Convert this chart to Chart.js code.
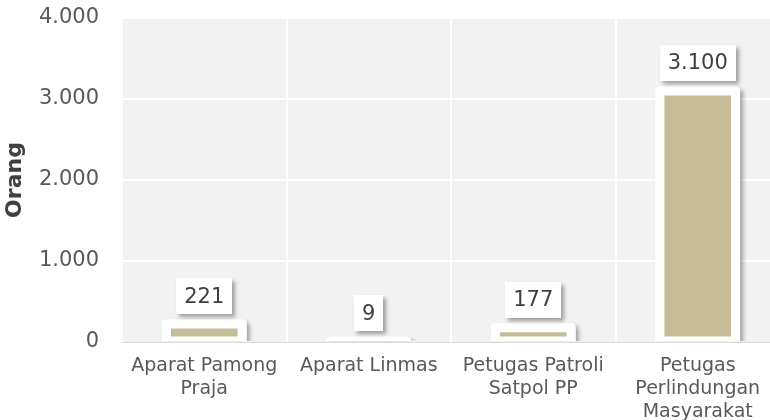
<!DOCTYPE html>
<html>
<head>
<meta charset="utf-8">
<script src="https://cdn.jsdelivr.net/npm/chart.js@4"></script>
<style>
  html, body { margin: 0; padding: 0; background: #fff; overflow: hidden; }
  #wadah { width: 780px; height: 420px; }
</style>
</head>
<body>
<div id="wadah"><canvas id="grafik" width="780" height="420"></canvas></div>
<script>
const kategori = [
    ["Aparat Pamong", "Praja"],
    ["Aparat Linmas"],
    ["Petugas Patroli", "Satpol PP"],
    ["Petugas", "Perlindungan", "Masyarakat"]
];
const jumlahOrang = [221, 9, 177, 3100];
const tickY = [0, 1000, 2000, 3000, 4000];
const judulY = "Orang";

const FONT = "'DejaVu Sans', sans-serif";
const BAYANGAN = { color: "rgba(0,0,0,0.35)", blur: 4, dx: 3, dy: 3 };

function formatAngka(n) {
    return String(n).replace(/\B(?=(\d{3})+(?!\d))/g, ".");
}

function kotakBulat(ctx, x, y, w, h, r) {
    ctx.beginPath();
    ctx.moveTo(x + r, y);
    ctx.lineTo(x + w - r, y);
    ctx.quadraticCurveTo(x + w, y, x + w, y + r);
    ctx.lineTo(x + w, y + h);
    ctx.lineTo(x, y + h);
    ctx.lineTo(x, y + r);
    ctx.quadraticCurveTo(x, y, x + r, y);
    ctx.closePath();
}

// background of the plot area
const latarPlot = {
    id: "latarPlot",
    beforeDraw(chart) {
        const { ctx, chartArea: a } = chart;
        ctx.save();
        ctx.fillStyle = "#f2f2f2";
        ctx.fillRect(a.left, a.top, a.right - a.left, a.bottom - a.top);
        ctx.restore();
    }
};

// white frame with shadow around each bar, plus the value boxes
const bingkaiBatang = {
    id: "bingkaiBatang",
    beforeDatasetsDraw(chart) {
        const { ctx, chartArea: a } = chart;
        const meta = chart.getDatasetMeta(0);
        ctx.save();
        ctx.beginPath();
        ctx.rect(a.left, a.top - 60, a.right - a.left, a.bottom - a.top + 59);
        ctx.clip();
        meta.data.forEach(el => {
            const p = el.getProps(["x", "y", "base", "width"], true);
            const kiri = p.x - p.width / 2 - 4.5;
            const atas = p.y - 4.5;
            ctx.shadowColor = BAYANGAN.color;
            ctx.shadowBlur = BAYANGAN.blur;
            ctx.shadowOffsetX = BAYANGAN.dx;
            ctx.shadowOffsetY = BAYANGAN.dy;
            ctx.fillStyle = "#ffffff";
            kotakBulat(ctx, kiri, atas, p.width + 9, p.base - atas + 4.5, 4);
            ctx.fill();
        });
        ctx.restore();
    },
    afterDatasetsDraw(chart) {
        const { ctx, chartArea: a } = chart;
        const meta = chart.getDatasetMeta(0);
        ctx.save();
        ctx.beginPath();
        ctx.rect(a.left, a.top - 60, a.right - a.left, a.bottom - a.top + 59);
        ctx.clip();
        ctx.strokeStyle = "#ffffff";
        ctx.lineWidth = 9;
        ctx.lineJoin = "round";
        meta.data.forEach(el => {
            const p = el.getProps(["x", "y", "base", "width"], true);
            ctx.strokeRect(p.x - p.width / 2, p.y, p.width, p.base - p.y);
        });
        ctx.restore();

        ctx.save();
        ctx.font = "21px " + FONT;
        ctx.textAlign = "center";
        ctx.textBaseline = "middle";
        meta.data.forEach((el, i) => {
            const p = el.getProps(["x", "y"], true);
            const teks = formatAngka(jumlahOrang[i]);
            const w = ctx.measureText(teks).width + 16;
            const h = 36;
            const bawah = p.y - 10;
            ctx.shadowColor = BAYANGAN.color;
            ctx.shadowBlur = BAYANGAN.blur;
            ctx.shadowOffsetX = BAYANGAN.dx;
            ctx.shadowOffsetY = BAYANGAN.dy;
            ctx.fillStyle = "#ffffff";
            ctx.fillRect(Math.round(p.x - w / 2), Math.round(bawah - h), Math.round(w), h);
            ctx.shadowColor = "transparent";
            ctx.fillStyle = "#404040";
            ctx.fillText(teks, p.x, bawah - h / 2 + 1);
        });
        ctx.restore();
    }
};

const config = {
    type: "bar",
    data: {
        labels: kategori,
        datasets: [{
            data: jumlahOrang,
            backgroundColor: "#c4bd97",
            borderWidth: 0,
            categoryPercentage: 1,
            barPercentage: 0.46
        }]
    },
    options: {
        responsive: false,
        animation: false,
        events: [],
        layout: { padding: 0 },
        plugins: {
            legend: { display: false },
            tooltip: { enabled: false }
        },
        scales: {
            x: {
                grid: { color: "#ffffff", lineWidth: 2, drawTicks: false },
                border: { color: "#d9d9d9", width: 1 },
                ticks: {
                    color: "#595959",
                    font: { family: FONT, size: 19, lineHeight: 1.2 },
                    padding: 13,
                    maxRotation: 0,
                    autoSkip: false
                },
                afterFit(s) { s.height = 78; }
            },
            y: {
                min: tickY[0],
                max: tickY[tickY.length - 1],
                afterBuildTicks(s) { s.ticks = tickY.map(v => ({ value: v })); },
                grid: {
                    color: c => c.tick.value === 0 ? "rgba(0,0,0,0)" : "#ffffff",
                    lineWidth: 2,
                    drawTicks: false
                },
                border: { display: false },
                ticks: {
                    color: "#595959",
                    font: { family: FONT, size: 21 },
                    padding: 23,
                    callback: v => formatAngka(v)
                },
                title: {
                    display: true,
                    text: judulY,
                    color: "#404040",
                    font: { family: FONT, size: 22, weight: "bold" },
                    padding: { top: 2, bottom: 0 }
                },
                afterFit(s) {
                    s.width = 122;
                    s.paddingTop = 18;
                    s.paddingBottom = 10;
                }
            }
        }
    },
    plugins: [latarPlot, bingkaiBatang]
};

new Chart(document.querySelector("#grafik").getContext("2d"), config);
</script>
</body>
</html>
